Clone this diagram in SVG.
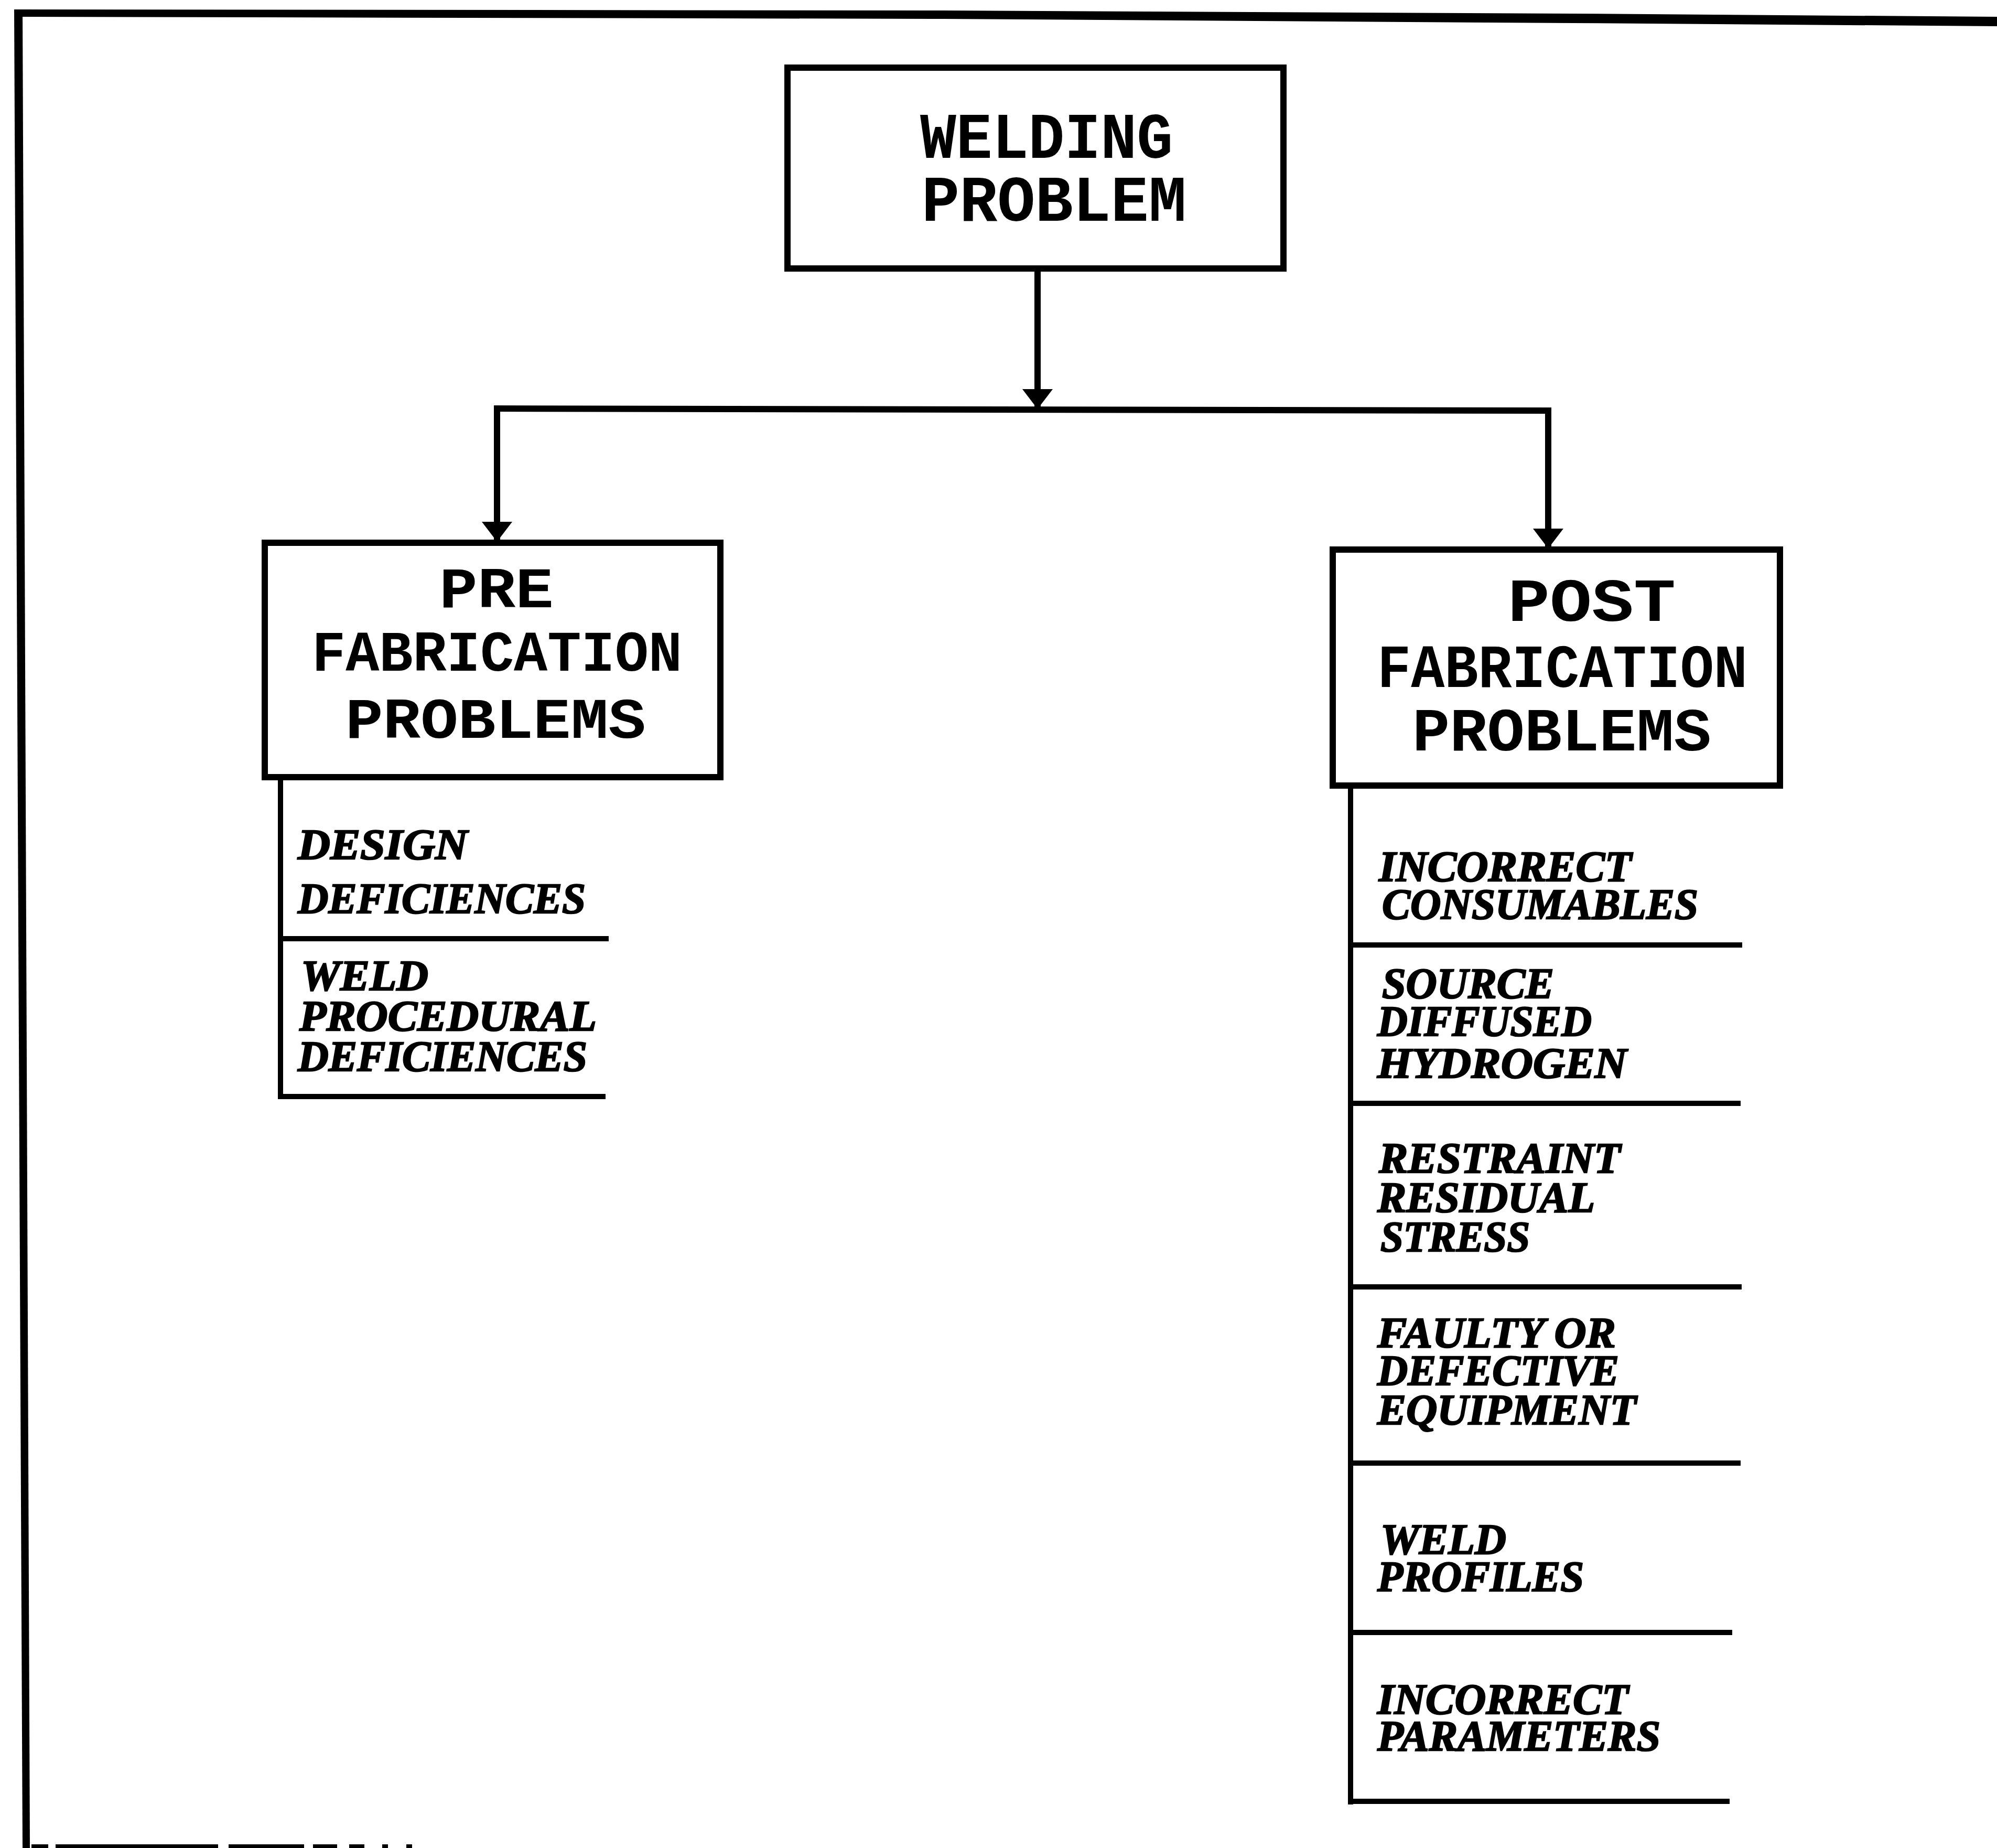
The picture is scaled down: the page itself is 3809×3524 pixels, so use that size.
<svg xmlns="http://www.w3.org/2000/svg" width="3809" height="3524" viewBox="0 0 3809 3524">
  <style>
    .box { fill: #ffffff; stroke: #000000; stroke-width: 12; }
    .conn { fill: none; stroke: #000000; stroke-width: 12; }
    .rule { fill: none; stroke: #000000; stroke-width: 10; stroke-linecap: square; }
    .title { font-family: "Liberation Mono", "Courier New", monospace; font-weight: bold; fill: #000000; }
    .item { font-family: "Liberation Serif", "Times New Roman", serif; font-weight: bold; font-style: italic; font-size: 82px; fill: #000000; stroke: #000000; stroke-width: 2.5; }
  </style>
  <defs>
    <marker id="arrow" viewBox="0 0 38 58" refX="36" refY="29" markerWidth="38" markerHeight="58" markerUnits="userSpaceOnUse" orient="auto">
      <path d="M0,0 L38,29 L0,58 Z" fill="#000000"/>
    </marker>
  </defs>

  <rect x="0" y="0" width="3809" height="3524" fill="#ffffff"/>

  <!-- outer frame (top and left edges, plus the clipped bottom edge) -->
  <g id="frame" fill="#000000">
    <polygon points="27,18 1800,20 3000,26 3809,32 3809,50 3000,44 1800,36 43,32"/>
    <polygon points="27,18 43,18 57,3524 43,3524"/>
    <rect x="60" y="3517" width="32" height="7"/>
    <rect x="106" y="3517" width="310" height="7"/>
    <rect x="436" y="3517" width="144" height="7"/>
    <rect x="597" y="3517" width="46" height="7"/>
    <rect x="666" y="3517" width="29" height="7"/>
    <rect x="729" y="3517" width="11" height="7"/>
    <rect x="775" y="3517" width="11" height="7"/>
  </g>

  <!-- connectors -->
  <g id="connectors">
    <line class="conn" x1="1979" y1="517" x2="1979" y2="778" marker-end="url(#arrow)"/>
    <line class="conn" x1="942" y1="779" x2="2959" y2="783"/>
    <line class="conn" x1="948" y1="779" x2="948" y2="1031" marker-end="url(#arrow)"/>
    <line class="conn" x1="2953" y1="783" x2="2953" y2="1044" marker-end="url(#arrow)"/>
  </g>

  <!-- root node -->
  <g id="welding-problem">
    <rect class="box" x="1502" y="129" width="946" height="383"/>
    <text class="title" font-size="124">
      <tspan x="1755" y="301" textLength="482" lengthAdjust="spacingAndGlyphs">WELDING</tspan>
      <tspan x="1758" y="421" textLength="505" lengthAdjust="spacingAndGlyphs">PROBLEM</tspan>
    </text>
  </g>

  <!-- pre-fabrication branch -->
  <g id="pre-fabrication">
    <rect class="box" x="505" y="1035" width="869" height="447"/>
    <text class="title" font-size="110">
      <tspan x="838" y="1158" textLength="218" lengthAdjust="spacingAndGlyphs">PRE</tspan>
      <tspan x="595" y="1279" textLength="706" lengthAdjust="spacingAndGlyphs">FABRICATION</tspan>
      <tspan x="659" y="1407" textLength="573" lengthAdjust="spacingAndGlyphs">PROBLEMS</tspan>
    </text>
  </g>

  <g id="pre-items">
    <line class="rule" x1="535" y1="1488" x2="535" y2="2091"/>
    <line class="rule" x1="535" y1="1790" x2="1156" y2="1790"/>
    <line class="rule" x1="535" y1="2091" x2="1150" y2="2091"/>
    <g id="design-deficiences">
      <text class="item">
        <tspan x="568" y="1638" textLength="324" lengthAdjust="spacingAndGlyphs">DESIGN</tspan>
        <tspan x="568" y="1741" textLength="549" lengthAdjust="spacingAndGlyphs">DEFICIENCES</tspan>
      </text>
    </g>
    <g id="weld-procedural-deficiences">
      <text class="item">
        <tspan x="574" y="1888" textLength="243" lengthAdjust="spacingAndGlyphs">WELD</tspan>
        <tspan x="571" y="1965" textLength="564" lengthAdjust="spacingAndGlyphs">PROCEDURAL</tspan>
        <tspan x="568" y="2042" textLength="552" lengthAdjust="spacingAndGlyphs">DEFICIENCES</tspan>
      </text>
    </g>
  </g>

  <!-- post-fabrication branch -->
  <g id="post-fabrication">
    <rect class="box" x="2542" y="1048" width="853" height="450"/>
    <text class="title" font-size="116">
      <tspan x="2876" y="1184" textLength="320" lengthAdjust="spacingAndGlyphs">POST</tspan>
      <tspan x="2627" y="1310" textLength="706" lengthAdjust="spacingAndGlyphs">FABRICATION</tspan>
      <tspan x="2694" y="1431" textLength="570" lengthAdjust="spacingAndGlyphs">PROBLEMS</tspan>
    </text>
  </g>

  <g id="post-items">
    <line class="rule" x1="2576" y1="1505" x2="2576" y2="3436"/>
    <line class="rule" x1="2576" y1="1802" x2="3318" y2="1802"/>
    <line class="rule" x1="2576" y1="2104" x2="3315" y2="2104"/>
    <line class="rule" x1="2576" y1="2454" x2="3317" y2="2454"/>
    <line class="rule" x1="2576" y1="2790" x2="3315" y2="2790"/>
    <line class="rule" x1="2576" y1="3113" x2="3299" y2="3113"/>
    <line class="rule" x1="2576" y1="3435" x2="3294" y2="3435"/>
    <g id="incorrect-consumables">
      <text class="item">
        <tspan x="2630" y="1680" textLength="482" lengthAdjust="spacingAndGlyphs">INCORRECT</tspan>
        <tspan x="2636" y="1752" textLength="603" lengthAdjust="spacingAndGlyphs">CONSUMABLES</tspan>
      </text>
    </g>
    <g id="source-diffused-hydrogen">
      <text class="item">
        <tspan x="2636" y="1903" textLength="328" lengthAdjust="spacingAndGlyphs">SOURCE</tspan>
        <tspan x="2627" y="1975" textLength="409" lengthAdjust="spacingAndGlyphs">DIFFUSED</tspan>
        <tspan x="2627" y="2055" textLength="476" lengthAdjust="spacingAndGlyphs">HYDROGEN</tspan>
      </text>
    </g>
    <g id="restraint-residual-stress">
      <text class="item">
        <tspan x="2630" y="2236" textLength="461" lengthAdjust="spacingAndGlyphs">RESTRAINT</tspan>
        <tspan x="2627" y="2311" textLength="412" lengthAdjust="spacingAndGlyphs">RESIDUAL</tspan>
        <tspan x="2633" y="2386" textLength="285" lengthAdjust="spacingAndGlyphs">STRESS</tspan>
      </text>
    </g>
    <g id="faulty-equipment">
      <text class="item">
        <tspan x="2627" y="2569" textLength="455" lengthAdjust="spacingAndGlyphs">FAULTY OR</tspan>
        <tspan x="2627" y="2641" textLength="461" lengthAdjust="spacingAndGlyphs">DEFECTIVE</tspan>
        <tspan x="2627" y="2716" textLength="494" lengthAdjust="spacingAndGlyphs">EQUIPMENT</tspan>
      </text>
    </g>
    <g id="weld-profiles">
      <text class="item">
        <tspan x="2633" y="2963" textLength="240" lengthAdjust="spacingAndGlyphs">WELD</tspan>
        <tspan x="2627" y="3034" textLength="394" lengthAdjust="spacingAndGlyphs">PROFILES</tspan>
      </text>
    </g>
    <g id="incorrect-parameters">
      <text class="item">
        <tspan x="2627" y="3268" textLength="479" lengthAdjust="spacingAndGlyphs">INCORRECT</tspan>
        <tspan x="2627" y="3338" textLength="540" lengthAdjust="spacingAndGlyphs">PARAMETERS</tspan>
      </text>
    </g>
  </g>
</svg>
